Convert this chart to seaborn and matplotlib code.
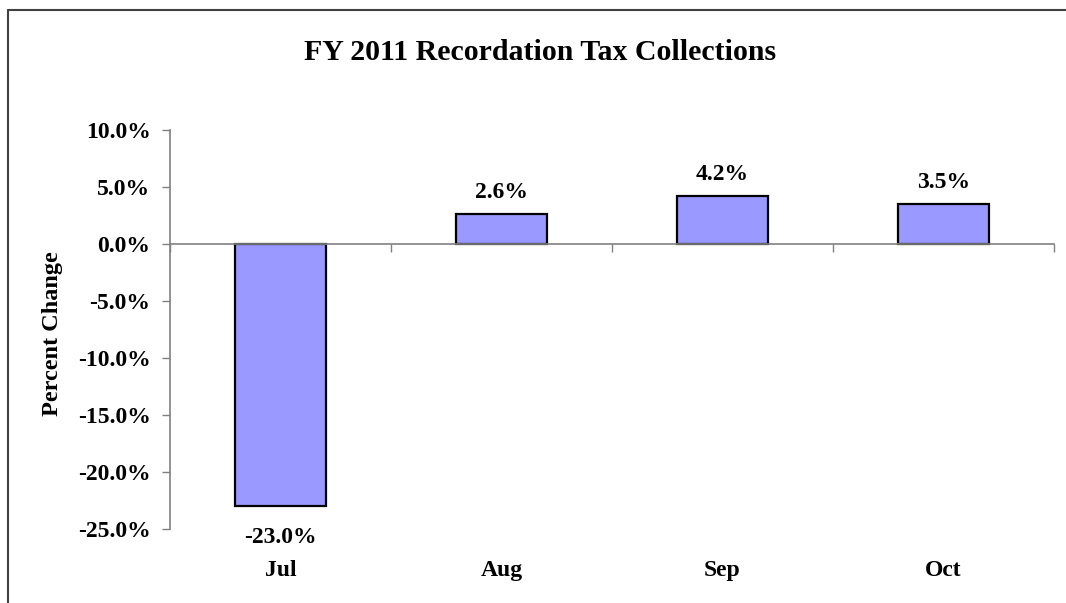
import matplotlib
matplotlib.use("Agg")
import matplotlib.pyplot as plt
from matplotlib.lines import Line2D
import seaborn as sns
import pandas as pd
from matplotlib.ticker import FuncFormatter

months = ["Jul", "Aug", "Sep", "Oct"]
pct_change = [-23.0, 2.6, 4.2, 3.5]
yticks = [10, 5, 0, -5, -10, -15, -20, -25]

sns.set_style("white")
plt.rcParams["font.family"] = ["Liberation Serif", "DejaVu Serif"]
plt.rcParams["font.weight"] = "bold"
plt.rcParams["text.color"] = "black"
plt.rcParams["axes.labelcolor"] = "black"
plt.rcParams["xtick.labelcolor"] = "black"
plt.rcParams["ytick.labelcolor"] = "black"

df = pd.DataFrame({"month": months, "value": pct_change})

fig = plt.figure(figsize=(10.66, 6.03), dpi=100)
ax = fig.add_axes([170/1066, 1-529/603, (1054-170)/1066, (529-130)/603])

sns.barplot(data=df, x="month", y="value", color="#9999FF", saturation=1,
            edgecolor="black", linewidth=1.6, width=0.41, ax=ax)

ax.set_xlim(-0.5, 3.5)
ax.set_ylim(-25, 10)
ax.set_yticks(yticks)
ax.yaxis.set_major_formatter(FuncFormatter(lambda v, p: f"{v:.1f}%"))
ax.tick_params(axis="y", direction="out", length=6, width=1, color="#808080",
               labelsize=17, pad=8, left=True, labelcolor="black")
for t in ax.get_yticklabels():
    t.set_fontweight("bold")

for s in ["top", "right"]:
    ax.spines[s].set_visible(False)
ax.spines["left"].set_color("#808080")
ax.spines["left"].set_linewidth(1.2)
ax.spines["bottom"].set_position(("data", 0))
ax.spines["bottom"].set_color("#808080")
ax.spines["bottom"].set_linewidth(1.2)

ax.set_xticks([-0.5, 0.5, 1.5, 2.5, 3.5])
ax.set_xticklabels([])
ax.tick_params(axis="x", direction="out", length=6, width=1, color="#808080", bottom=True)
ax.set_xlabel("")

sec = ax.secondary_xaxis("bottom")
sec.set_xticks(range(len(months)))
sec.set_xticklabels(months, fontsize=17, fontweight="bold", color="black")
sec.tick_params(length=0, pad=22)
sec.spines["bottom"].set_visible(False)

ax.set_ylabel("Percent Change", fontsize=17.5, fontweight="bold", color="black")
ax.yaxis.set_label_coords((63-170)/884, 0.49)

container = ax.containers[0]
pos_labels = [f"{v:.1f}%" if v >= 0 else "" for v in pct_change]
neg_labels = [f"{v:.1f}%" if v < 0 else "" for v in pct_change]
ax.bar_label(container, labels=pos_labels, padding=8,
             fontsize=17, fontweight="bold", color="black")
ax.bar_label(container, labels=neg_labels, padding=15,
             fontsize=17, fontweight="bold", color="black")

fig.text(540/1066, 1-53/603, "FY 2011 Recordation Tax Collections", ha="center",
         va="center", fontsize=21.5, fontweight="bold", color="black")

fig.add_artist(Line2D([8/1066, 8/1066], [0, 1-10/603], color="#404040", lw=1.5,
                      transform=fig.transFigure))
fig.add_artist(Line2D([8/1066, 1], [1-10/603, 1-10/603], color="#404040", lw=1.5,
                      transform=fig.transFigure))

fig.savefig("out.png", dpi=100)
